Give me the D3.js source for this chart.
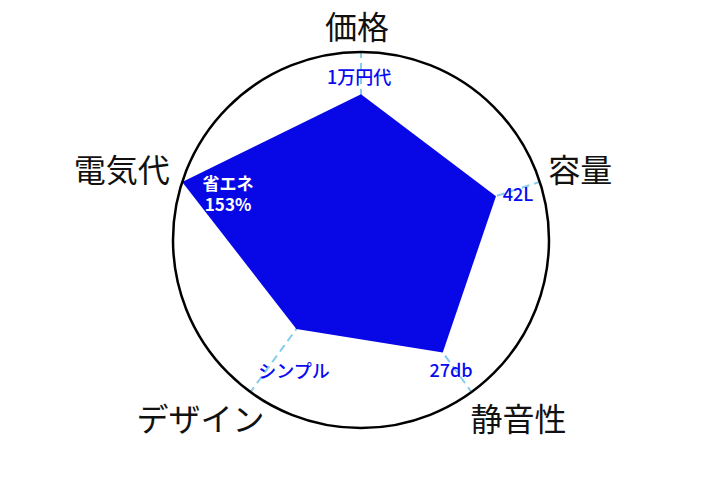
<!DOCTYPE html>
<html>
<head>
<meta charset="utf-8">
<script src="https://cdn.jsdelivr.net/npm/d3@7"></script>
<style>
  html, body { margin: 0; padding: 0; background: #fff; }
  svg { display: block; font-family: "Noto Sans CJK JP", "Noto Sans", sans-serif; }
</style>
</head>
<body>
<svg id="chart" width="720" height="480"></svg>
<script>
// ---- data ----
const categories = ["価格", "容量", "静音性", "デザイン", "電気代"];
const values = [77.5, 75.5, 74, 58.5, 100];
const valueLabels = ["1万円代", "42L", "27db", "シンプル", "省エネ\n153%"];
const maxValue = 100;

// ---- layout ----
const W = 720, H = 480;
const cx = 361, cy = 240, R = 188;
const svg = d3.select("#chart");
const g = svg.append("g").attr("transform", `translate(${cx},${cy})`);

const angle = d3.scalePoint().domain(categories).range([0, 2 * Math.PI * (categories.length - 1) / categories.length]);
const r = d3.scaleLinear().domain([0, maxValue]).range([0, R]);
const polar = (a, rad) => [Math.sin(a) * rad, -Math.cos(a) * rad];

// dashed axes
g.selectAll("line.axis").data(categories).join("line")
  .attr("class", "axis")
  .attr("x1", 0).attr("y1", 0)
  .attr("x2", d => polar(angle(d), R)[0])
  .attr("y2", d => polar(angle(d), R)[1])
  .attr("stroke", "#86cdec")
  .attr("stroke-width", 2)
  .attr("stroke-dasharray", "8,5");

// polygon
const radial = d3.lineRadial()
  .angle((d, i) => angle(categories[i]))
  .radius(d => r(d))
  .curve(d3.curveLinearClosed);
g.append("path")
  .datum(values)
  .attr("d", radial)
  .attr("fill", "#0808e6");

// outer circle
g.append("circle").attr("r", R)
  .attr("fill", "none").attr("stroke", "#000").attr("stroke-width", 2.5);

// axis labels (offsets relative to a polar anchor at radius 200)
const labelOffsets = [[-4, -15], [29, -10], [40, 15], [-43, 15], [-49, -10]];
g.selectAll("text.cat").data(categories).join("text")
  .attr("class", "cat")
  .attr("x", (d, i) => polar(angle(d), 200)[0] + labelOffsets[i][0])
  .attr("y", (d, i) => polar(angle(d), 200)[1] + labelOffsets[i][1])
  .attr("text-anchor", "middle")
  .attr("dominant-baseline", "central")
  .attr("font-size", 32)
  .attr("fill", "#111")
  .text(d => d);

// value labels (offsets relative to a polar anchor at radius 165)
const valueOffsets = [[-2, 0.5], [0, 3.5], [-7, -4.5], [30, -3.5], [24, 4]];
const valueColors = ["#0a0af0", "#0a0af0", "#0a0af0", "#0a0af0", "#ffffff"];
const valueWeights = [500, 500, 500, 500, 700];
const valueSizes = [18, 18, 18, 18, 17];
g.selectAll("text.val").data(valueLabels).join("text")
  .attr("class", "val")
  .attr("transform", (d, i) => {
    const p = polar(angle(categories[i]), 165);
    return `translate(${p[0] + valueOffsets[i][0]},${p[1] + valueOffsets[i][1]})`;
  })
  .attr("text-anchor", "middle")
  .attr("font-size", (d, i) => valueSizes[i])
  .attr("font-weight", (d, i) => valueWeights[i])
  .attr("fill", (d, i) => valueColors[i])
  .each(function(d) {
    const lines = d.split("\n");
    const t = d3.select(this);
    lines.forEach((ln, k) => {
      t.append("tspan")
        .attr("x", 0)
        .attr("y", (k - (lines.length - 1) / 2) * 21.5)
        .attr("dominant-baseline", "central")
        .text(ln);
    });
  });
</script>
</body>
</html>
